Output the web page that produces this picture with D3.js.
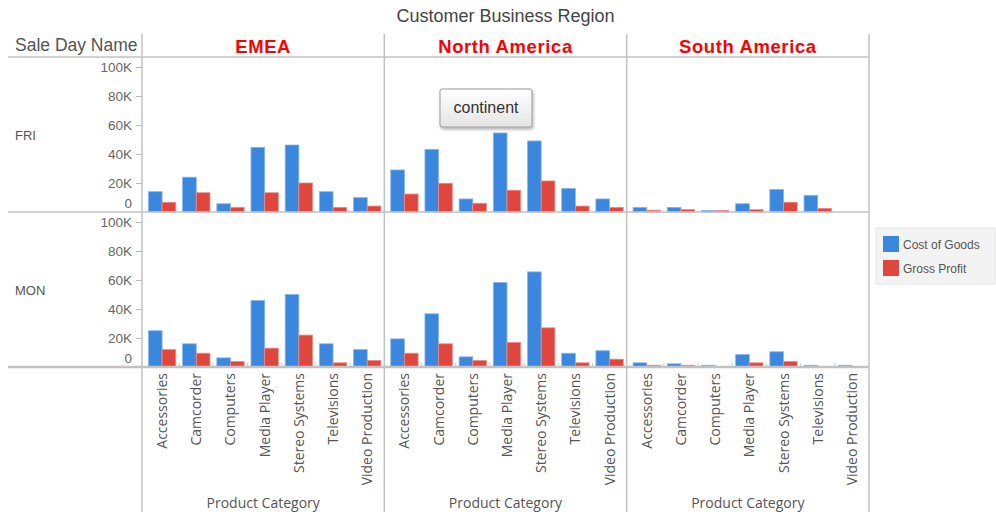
<!DOCTYPE html>
<html>
<head>
<meta charset="utf-8" />
<script src="https://cdn.jsdelivr.net/npm/d3@7"></script>
<style>
  body { margin: 0; background: #fff; }
  text { font-family: "Liberation Sans", Arial, sans-serif; }
  .frame { stroke: #c2c2c2; stroke-width: 1.5; fill: none; }
  .ytick text { fill: #666; font-size: 13.5px; }
  .xlab { fill: #555; font-size: 14px; font-family: "Open Sans", sans-serif; }
</style>
</head>
<body>
<div id="chart"></div>
<script>
var width = 996, height = 512;

// data (values in dollars)
var categories = ["Accessories", "Camcorder", "Computers", "Media Player", "Stereo Systems", "Televisions", "Video Production"];
var regions = ["EMEA", "North America", "South America"];
var days = ["FRI", "MON"];
var seriesNames = ["Cost of Goods", "Gross Profit"];
var seriesColors = ["#3b87dd", "#df463d"];
var yTicks = [0, 20000, 40000, 60000, 80000, 100000];
var yTickLabels = ["0", "20K", "40K", "60K", "80K", "100K"];

var emeaFriCost   = [14000, 24000, 5700, 44600, 46200, 14000, 9900];
var emeaFriProfit = [6700, 13300, 3200, 13300, 20000, 3200, 4100];
var naFriCost     = [29000, 43200, 9000, 54500, 49000, 16300, 9000];
var naFriProfit   = [12400, 19800, 6000, 15000, 21400, 4100, 3200];
var saFriCost     = [3200, 3200, 1000, 5700, 15600, 11500, 0];
var saFriProfit   = [1200, 1600, 1000, 1600, 6700, 2500, 0];

var emeaMonCost   = [25000, 16000, 6300, 45900, 50000, 16000, 12000];
var emeaMonProfit = [12000, 9500, 3800, 13000, 22000, 2900, 4500];
var naMonCost     = [19400, 36700, 7000, 58300, 65600, 9500, 11200];
var naMonProfit   = [9500, 16000, 4500, 16900, 27000, 2900, 5400];
var saMonCost     = [2900, 2200, 1200, 8600, 10500, 1200, 1200];
var saMonProfit   = [1200, 1200, 0, 2900, 3800, 0, 0];

var panelData = {
  "FRI|EMEA": [emeaFriCost, emeaFriProfit],
  "FRI|North America": [naFriCost, naFriProfit],
  "FRI|South America": [saFriCost, saFriProfit],
  "MON|EMEA": [emeaMonCost, emeaMonProfit],
  "MON|North America": [naMonCost, naMonProfit],
  "MON|South America": [saMonCost, saMonProfit]
};

var svg = d3.select("#chart").append("svg")
  .attr("width", width)
  .attr("height", height);

var defs = svg.append("defs");
var grad = defs.append("linearGradient").attr("id", "tipGrad")
  .attr("x1", 0).attr("y1", 0).attr("x2", 0).attr("y2", 1);
grad.append("stop").attr("offset", "0%").attr("stop-color", "#ffffff");
grad.append("stop").attr("offset", "100%").attr("stop-color", "#e4e4e4");
var shadow = defs.append("filter").attr("id", "tipShadow")
  .attr("x", "-20%").attr("y", "-20%").attr("width", "150%").attr("height", "160%");
shadow.append("feDropShadow").attr("dx", 1).attr("dy", 2).attr("stdDeviation", 1.5)
  .attr("flood-color", "#000").attr("flood-opacity", 0.3);

// layout
var left = 142, right = 869, headerY = 57;
var rowTop = [57, 212], rowH = 155;

var col = d3.scaleBand().domain(regions).range([left, right]);
var row = d3.scaleBand().domain(days).range([headerY, headerY + 2 * rowH]);

// title + headers
svg.append("text")
  .attr("x", (left + right) / 2).attr("y", 22)
  .attr("text-anchor", "middle")
  .style("font-size", "18px").style("fill", "#444")
  .text("Customer Business Region");

svg.append("text")
  .attr("x", 15).attr("y", 51)
  .style("font-size", "17.5px").style("fill", "#555")
  .text("Sale Day Name");

svg.selectAll(".regionTitle")
  .data(regions).enter().append("text")
  .attr("class", "regionTitle")
  .attr("x", function(d) { return col(d) + col.bandwidth() / 2; })
  .attr("y", 53)
  .attr("text-anchor", "middle")
  .style("font-size", "18.5px").style("font-weight", "bold").style("fill", "#ff0000")
  .style("letter-spacing", "0.6px")
  .text(function(d) { return d; });

svg.selectAll(".dayLabel")
  .data(days).enter().append("text")
  .attr("class", "dayLabel")
  .attr("x", 15)
  .attr("y", function(d) { return row(d) + 83; })
  .style("font-size", "13px").style("fill", "#555")
  .text(function(d) { return d; });

// panels
days.forEach(function(day) {
  var y0 = row(day);
  var y = d3.scaleLinear().domain([0, 100000]).range([y0 + rowH, y0 + 10]);

  // y axis
  var ax = svg.append("g")
    .attr("class", "ytick")
    .attr("transform", "translate(" + left + ",0)")
    .call(d3.axisLeft(y).tickValues(yTicks).tickSize(6).tickPadding(4)
      .tickFormat(function(d, i) { return yTickLabels[i]; }));
  ax.select(".domain").remove();
  ax.selectAll(".tick line").attr("stroke", "#bbb");
  ax.selectAll(".tick").filter(function(d) { return d === 0; })
    .select("line").remove();
  ax.selectAll(".tick").filter(function(d) { return d === 0; })
    .select("text").attr("dy", "-0.3em");

  regions.forEach(function(reg) {
    var c0 = col(reg);
    var x = d3.scaleBand().domain(categories)
      .range([c0 + 3, c0 + col.bandwidth()])
      .paddingInner(0.2).paddingOuter(0.1);
    var xs = d3.scaleBand().domain([0, 1]).range([0, x.bandwidth()]);
    var vals = panelData[day + "|" + reg];

    var g = svg.append("g");
    categories.forEach(function(cat, ci) {
      [0, 1].forEach(function(si) {
        var v = vals[si][ci];
        if (v <= 0) return;
        g.append("rect")
          .attr("x", x(cat) + xs(si))
          .attr("y", y(v))
          .attr("width", xs.bandwidth())
          .attr("height", y(0) - y(v))
          .attr("fill", seriesColors[si])
          .attr("stroke", si === 0 ? "#86b6ec" : "#ee8a84")
          .attr("stroke-width", 0.8);
      });
    });

    // small category separators on the baseline
    if (day === "MON") {
      categories.slice(1).forEach(function(cat) {
        var bx = x(cat) - x.step() * x.paddingInner() / 2;
        g.append("line")
          .attr("x1", bx).attr("x2", bx)
          .attr("y1", y(0) - 4).attr("y2", y(0))
          .attr("stroke", "#ccc");
      });
    }
  });
});

// frame lines
svg.append("line").attr("class", "frame")
  .attr("x1", 8).attr("x2", right).attr("y1", headerY).attr("y2", headerY);
svg.append("line").attr("class", "frame")
  .attr("x1", 8).attr("x2", right).attr("y1", rowTop[1]).attr("y2", rowTop[1]);
svg.append("line").attr("class", "frame").style("stroke-width", 2.5)
  .attr("x1", 8).attr("x2", right).attr("y1", rowTop[1] + rowH).attr("y2", rowTop[1] + rowH);
[left, col("North America"), col("South America"), right].forEach(function(vx) {
  svg.append("line").attr("class", "frame")
    .attr("x1", vx).attr("x2", vx).attr("y1", 34).attr("y2", height);
});

// category labels
regions.forEach(function(reg) {
  var c0 = col(reg);
  var x = d3.scaleBand().domain(categories)
    .range([c0 + 3, c0 + col.bandwidth()])
    .paddingInner(0.2).paddingOuter(0.1);
  svg.selectAll(null).data(categories).enter().append("text")
    .attr("class", "xlab")
    .attr("transform", function(d) {
      return "translate(" + (x(d) + x.bandwidth() / 2 + 5) + ",373) rotate(-90)";
    })
    .attr("text-anchor", "end")
    .text(function(d) { return d; });
  svg.append("text")
    .attr("class", "xlab")
    .attr("x", c0 + col.bandwidth() / 2).attr("y", 508)
    .attr("text-anchor", "middle")
    .style("font-size", "14px")
    .text("Product Category");
});

// legend
var lg = svg.append("g").attr("transform", "translate(876,228)");
lg.append("rect").attr("width", 119).attr("height", 56)
  .attr("fill", "#f3f3f3").attr("stroke", "#e6e6e6");
seriesNames.forEach(function(s, i) {
  lg.append("rect").attr("x", 7).attr("y", 8 + i * 24)
    .attr("width", 16).attr("height", 16).attr("fill", seriesColors[i]);
  lg.append("text").attr("x", 27).attr("y", 21 + i * 24)
    .style("font-size", "12px").style("fill", "#555")
    .text(s);
});

// tooltip box
var tip = svg.append("g").attr("transform", "translate(440,89)");
tip.append("rect").attr("width", 92).attr("height", 38).attr("rx", 2)
  .attr("fill", "url(#tipGrad)").attr("stroke", "#999")
  .attr("filter", "url(#tipShadow)");
tip.append("text").attr("x", 46).attr("y", 24)
  .attr("text-anchor", "middle")
  .style("font-size", "16px").style("fill", "#333")
  .text("continent");
</script>
</body>
</html>
